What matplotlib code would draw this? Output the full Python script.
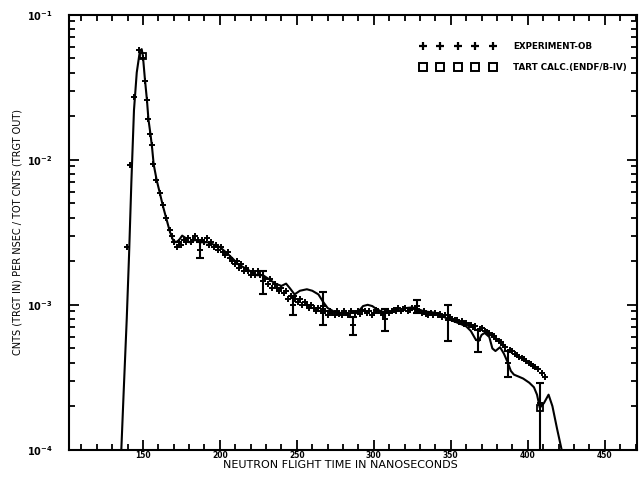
import matplotlib
matplotlib.use("Agg")
import matplotlib.pyplot as plt
from matplotlib.lines import Line2D
from matplotlib.ticker import MultipleLocator, LogLocator, NullFormatter

# TART calculation (solid curve), time in ns
calc_t = [135.8, 137.5, 139.5, 141.0, 142.5, 144.2, 146.0, 148.0, 149.2, 150.0,
          151.3, 152.6, 153.6, 155.0, 156.0, 157.0, 159.0, 161.0, 163.0, 165.3,
          167.5, 169.5, 171.5, 173.5, 175.5, 177.5, 180.0, 184.0, 188.0, 192.0,
          196.0, 200.0, 204.0, 208.0, 212.0, 216.0, 220.0, 224.0, 228.0, 232.0,
          236.0, 240.0, 243.0, 245.5, 248.5, 252.0, 256.5, 260.0, 264.0, 267.0,
          270.0, 274.0, 278.0, 282.0, 286.0, 290.0, 293.0, 296.0, 299.0, 302.0,
          305.0, 309.0, 313.0, 317.0, 321.0, 325.0, 329.0, 333.0, 337.0, 340.0,
          344.0, 348.0, 352.0, 356.0, 360.0, 363.0, 366.0, 368.0, 370.0, 372.0,
          375.0, 377.0, 379.0, 382.0, 384.5, 387.0, 389.0, 391.0, 394.0, 397.0,
          401.0, 404.0, 406.0, 407.8, 410.5, 413.5, 416.0, 419.0, 422.0, 425.0]
calc_y = [0.00009, 0.00025, 0.0008, 0.0022, 0.0070, 0.022, 0.040, 0.056, 0.058, 0.052,
          0.036, 0.026, 0.019, 0.0148, 0.012, 0.0093, 0.0072, 0.0059, 0.0048, 0.0039,
          0.0032, 0.0028, 0.0027, 0.0028, 0.0030, 0.0029, 0.0027, 0.0028, 0.0027, 0.0027,
          0.0026, 0.0025, 0.0023, 0.0021, 0.0019, 0.0018, 0.0017, 0.0016, 0.0016, 0.0015,
          0.0014, 0.00135, 0.0014, 0.0013, 0.00118, 0.00125, 0.00128, 0.00125, 0.00118, 0.00105,
          0.00095, 0.0009, 0.00088, 0.00087, 0.00088, 0.0009, 0.00098, 0.0010, 0.00098, 0.00093,
          0.0009, 0.00088, 0.0009, 0.00092, 0.00095, 0.00096, 0.00093, 0.0009, 0.00089, 0.00088,
          0.00084, 0.0008, 0.00077, 0.00074, 0.00071, 0.00066, 0.00058, 0.00056, 0.00062, 0.00064,
          0.0006, 0.0005, 0.00048, 0.00051, 0.00046, 0.0004, 0.00035, 0.00033, 0.00032, 0.00031,
          0.00029, 0.00027, 0.00024, 0.000195, 0.00021, 0.00024, 0.0002, 0.00014, 0.0001, 0.00007]
calc_square_t = [150.0, 407.8]   # where the plotter put the square symbols

# experiment-OB (plus markers)
exp_t = [139.5, 141.6, 144.2, 147.4, 150.0, 151.3, 152.6, 153.6, 154.9, 155.8,
         156.8, 158.8, 161.0, 163.0, 165.3, 167.5, 169.0, 170.5, 172.0, 173.5,
         175.0, 176.5, 178.0, 179.5, 181.0, 182.5, 184.0, 185.5, 187.0, 188.5,
         190.0, 191.5, 193.0, 194.5, 196.0, 197.5, 199.0, 200.5, 202.0, 203.5,
         205.0, 206.5, 208.0, 209.5, 211.0, 212.5, 214.0, 215.5, 217.0, 218.5,
         220.0, 221.5, 223.0, 224.5, 226.0, 228.0, 229.5, 231.0, 232.5, 234.0,
         235.5, 237.0, 238.5, 240.0, 241.5, 243.0, 244.5, 246.0, 247.4, 249.0,
         250.5, 252.0, 253.5, 255.0, 256.5, 258.0, 259.5, 261.0, 262.5, 264.0,
         265.5, 267.0, 268.5, 270.0, 271.5, 273.0, 274.5, 276.0, 277.5, 279.0,
         280.5, 282.0, 283.5, 285.0, 286.5, 288.0, 289.5, 291.0, 292.5, 294.0,
         295.5, 297.0, 298.5, 300.0, 301.5, 303.0, 304.5, 306.0, 307.1, 308.5,
         310.0, 311.5, 313.0, 314.5, 316.0, 317.5, 319.0, 320.5, 322.0, 323.5,
         325.0, 326.5, 328.0, 329.5, 331.0, 332.5, 334.0, 335.5, 337.0, 338.5,
         340.0, 341.5, 343.0, 344.5, 346.0, 348.0, 349.5, 351.0, 352.5, 354.0,
         355.5, 357.0, 358.5, 360.0, 361.5, 363.0, 364.5, 366.0, 367.5, 369.0,
         370.5, 372.0, 373.5, 375.0, 376.5, 378.0, 379.5, 381.0, 382.5, 384.0,
         385.5, 387.0, 388.5, 390.0, 391.5, 393.0, 394.5, 396.0, 397.5, 399.0,
         400.5, 402.0, 403.5, 405.0, 406.5, 408.0, 409.5, 411.0]
exp_y = [0.0025, 0.0092, 0.027, 0.057, 0.050, 0.035, 0.026, 0.019, 0.015, 0.0127,
         0.0094, 0.0073, 0.0059, 0.0049, 0.0040, 0.0033, 0.0030, 0.0027, 0.0025, 0.0027,
         0.0026, 0.0028, 0.0027, 0.0029, 0.0027, 0.0028, 0.0030, 0.0028, 0.0024, 0.0028,
         0.0027, 0.0029, 0.0026, 0.0027, 0.0025, 0.0026, 0.0024, 0.0025, 0.0023, 0.0022,
         0.0023, 0.0021, 0.0020, 0.0019, 0.0020, 0.0018, 0.0019, 0.0017, 0.0018, 0.0017,
         0.0016, 0.0017, 0.0016, 0.0017, 0.0016, 0.00145, 0.0015, 0.0014, 0.0015, 0.0013,
         0.0014, 0.0013, 0.00125, 0.0013, 0.0012, 0.00125, 0.0011, 0.00115, 0.0010, 0.0011,
         0.00105, 0.0011, 0.0010, 0.00105, 0.0010, 0.00095, 0.0010, 0.00095, 0.0009, 0.00095,
         0.0009, 0.00098, 0.0009, 0.00085, 0.0009, 0.00088, 0.00085, 0.0009, 0.00087, 0.00085,
         0.0009, 0.00088, 0.00085, 0.0009, 0.00072, 0.00088, 0.0009, 0.00087, 0.00092, 0.0009,
         0.00088, 0.0009, 0.00085, 0.00088, 0.00092, 0.0009, 0.00088, 0.00085, 0.0008, 0.0009,
         0.00088, 0.0009, 0.00092, 0.0009, 0.00095, 0.0009, 0.00093, 0.00095, 0.0009, 0.00092,
         0.00095, 0.00093, 0.00098, 0.0009, 0.00088, 0.0009, 0.00087, 0.00085, 0.00088, 0.00085,
         0.00088, 0.00085, 0.00087, 0.00083, 0.00085, 0.00078, 0.00082, 0.0008, 0.00078, 0.00079,
         0.00076, 0.00077, 0.00074, 0.00075, 0.00072, 0.00073, 0.0007, 0.00071, 0.00057, 0.00068,
         0.00069, 0.00066, 0.00065, 0.00064, 0.00062, 0.00061, 0.00058, 0.00056, 0.00055, 0.00053,
         0.00051, 0.0004, 0.00049, 0.00048, 0.00046, 0.00045, 0.00044, 0.00043, 0.00042, 0.00041,
         0.0004, 0.00039, 0.00038, 0.00037, 0.00036, 0.00021, 0.00034, 0.00032]

# error bars drawn on a few of the experimental points
err_t = [187.0, 228.0, 247.4, 267.0, 286.5, 307.1, 328.0, 348.0, 367.5, 387.0, 408.0]
err_y = [0.0024, 0.00145, 0.0010, 0.00098, 0.00072, 0.0008, 0.00098, 0.00078, 0.00057, 0.0004, 0.00021]
err_lo = [0.0003, 0.00027, 0.00015, 0.00025, 0.0001, 0.00014, 0.0001, 0.00022, 0.0001, 0.00008, 0.00015]
err_hi = [0.0003, 0.00027, 0.00015, 0.00025, 0.0001, 0.00014, 0.0001, 0.00022, 0.0001, 0.00008, 0.00008]

y_ticks = [1e-4, 1e-3, 1e-2, 1e-1]
y_ticklabels = [r"$\mathbf{10^{-4}}$", r"$\mathbf{10^{-3}}$", r"$\mathbf{10^{-2}}$", r"$\mathbf{10^{-1}}$"]

plt.rcParams["font.family"] = "DejaVu Sans"
plt.rcParams["font.weight"] = "bold"

fig = plt.figure(figsize=(6.39, 4.78), dpi=100)
ax = fig.add_axes([0.108, 0.059, 0.889, 0.910])

# calculation curve + its squares
sq_idx = [calc_t.index(t) for t in calc_square_t]
ax.plot(calc_t, calc_y, color="black", lw=1.5, marker="s", ms=5, mfc="none",
        mew=1.3, markevery=sq_idx, zorder=3)

# experiment
ax.plot(exp_t, exp_y, ls="none", marker="+", ms=5, mew=1.4, color="black", zorder=4)
ax.errorbar(err_t, err_y, yerr=[err_lo, err_hi], fmt="none", ecolor="black",
            elinewidth=1.5, capsize=3, capthick=1.5, zorder=4)

ax.set_yscale("log")
ax.set_ylim(1e-4, 1e-1)
ax.set_xlim(102, 471)

ax.set_yticks(y_ticks)
ax.set_yticklabels(y_ticklabels, fontsize=7)
ax.yaxis.set_minor_locator(LogLocator(base=10, subs=range(2, 10)))
ax.yaxis.set_minor_formatter(NullFormatter())
ax.xaxis.set_major_locator(MultipleLocator(50))
ax.xaxis.set_minor_locator(MultipleLocator(10))

ax.tick_params(which="both", direction="in", top=True, right=True, width=1.3)
ax.tick_params(which="major", length=7)
ax.tick_params(which="minor", length=4)
ax.tick_params(axis="x", labelsize=5.5, pad=1)
ax.tick_params(axis="y", pad=12)
for s in ax.spines.values():
    s.set_linewidth(1.5)

ax.set_xlabel("NEUTRON FLIGHT TIME IN NANOSECONDS", fontsize=8)
ax.xaxis.set_label_coords(0.477, -0.024, transform=ax.transAxes)
ax.xaxis.label.set_verticalalignment("top")
ax.set_ylabel("CNTS (TRGT IN) PER NSEC / TOT CNTS (TRGT OUT)", fontsize=7)
ax.yaxis.set_label_coords(-0.082, 0.5)

handles = [Line2D([], [], ls="none", marker="+", ms=6, mew=1.6, color="black"),
           Line2D([], [], ls="none", marker="s", ms=5.5, mfc="none", mew=1.4, color="black")]
ax.legend(handles, ["EXPERIMENT-OB", "TART CALC.(ENDF/B-IV)"], numpoints=5,
          handlelength=8.6, handletextpad=2.0, labelspacing=1.3, frameon=False,
          loc="upper left", bbox_to_anchor=(0.612, 0.945), fontsize=6.3,
          borderaxespad=0)

fig.savefig("out.png", dpi=100)
